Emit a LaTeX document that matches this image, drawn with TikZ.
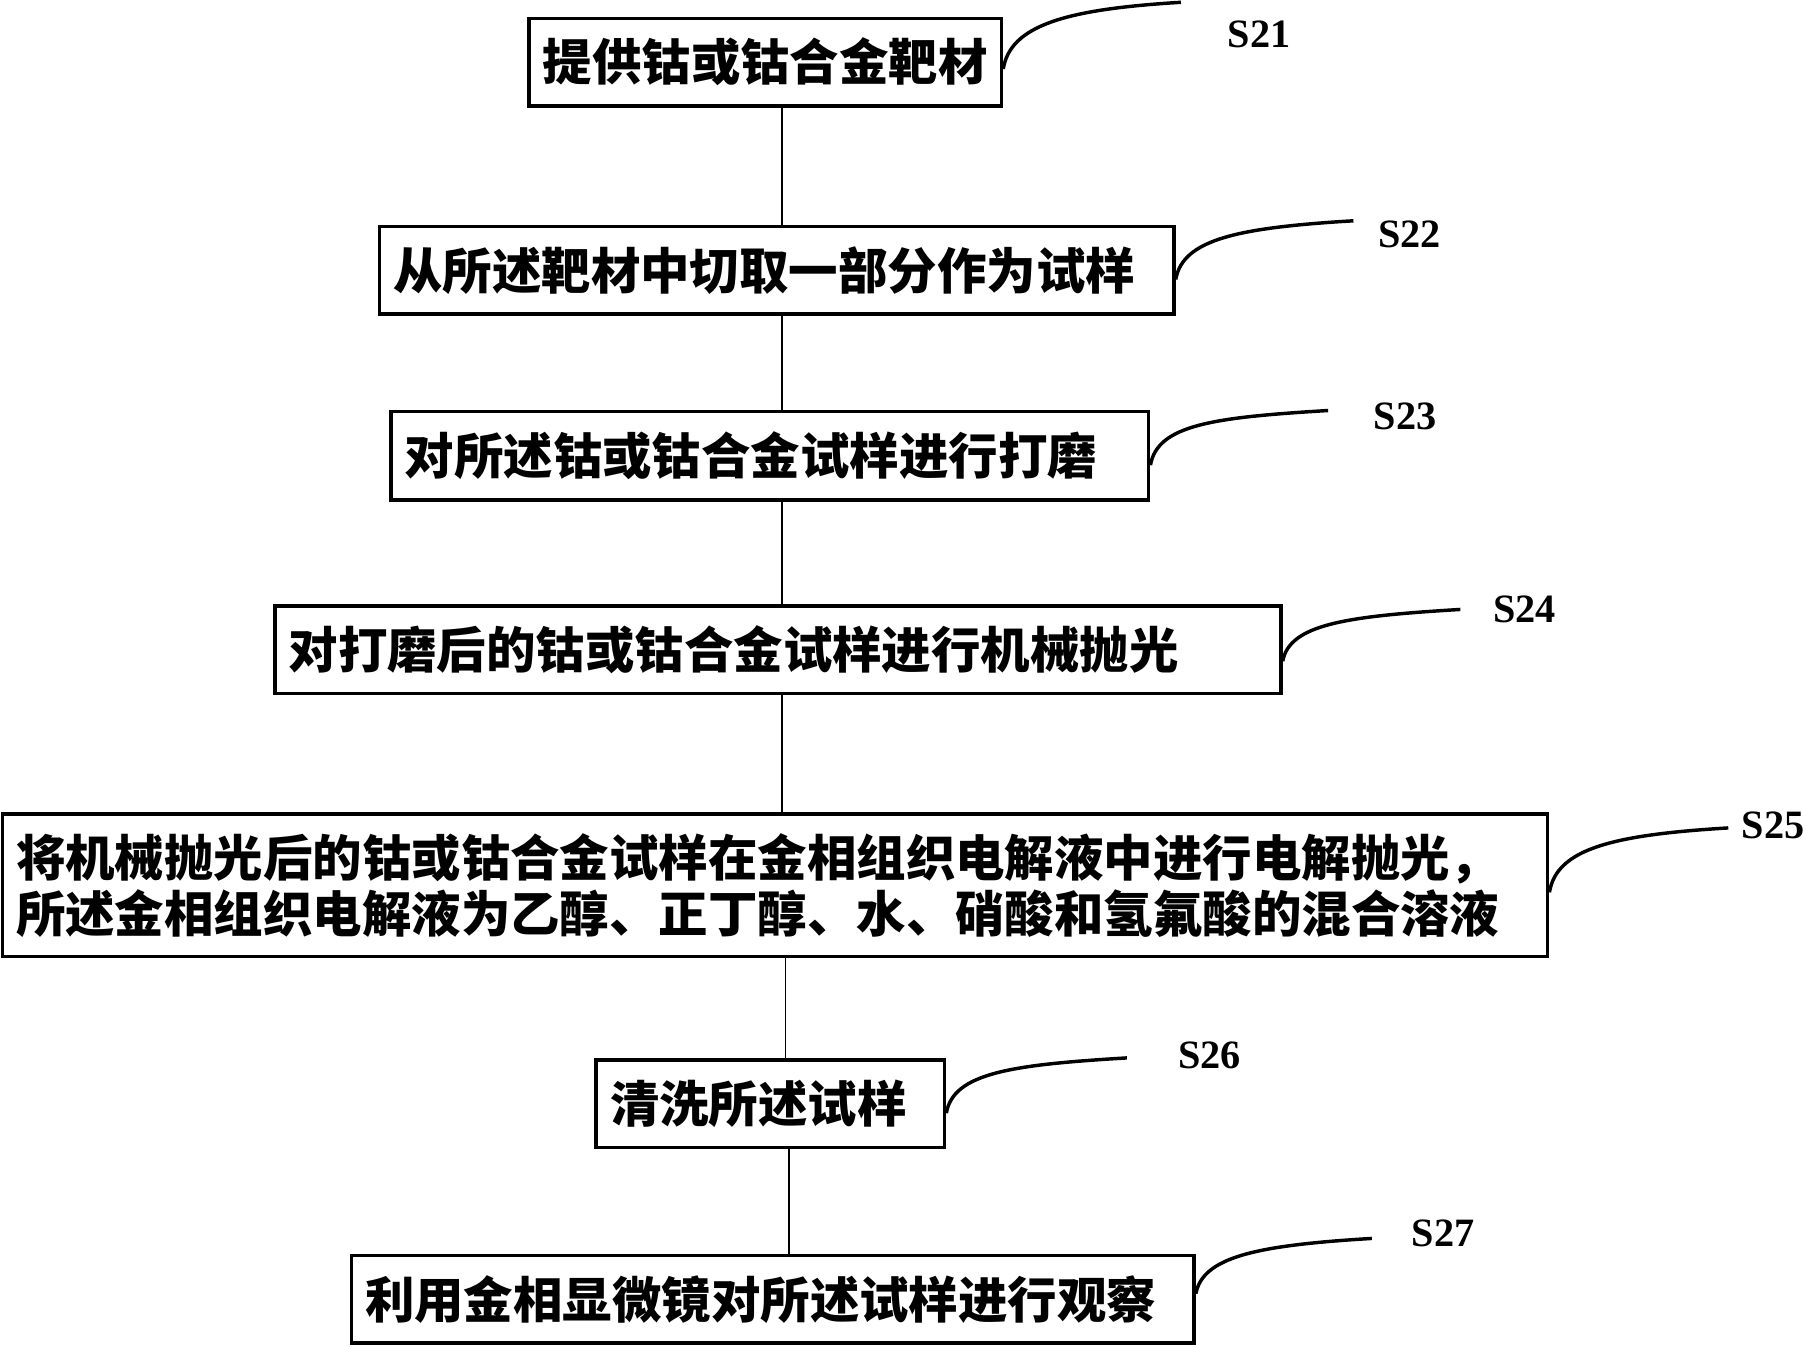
\documentclass[tikz,border=0pt]{standalone}
\usepackage{fontspec}
\usepackage{tikz}
\newfontfamily\cjk{Noto Sans CJK SC}
\newfontfamily\tag{Liberation Serif}

\tikzset{
  stepbox/.style={draw=black,line width=3pt,rectangle,inner xsep=12pt,inner ysep=0pt,
    align=left,font=\cjk\bfseries\fontsize{43}{49}\selectfont},
  link/.style={black,line width=1.4pt},
  leader/.style={black,line width=3pt},
  steptag/.style={font=\tag\bfseries\fontsize{35}{35}\selectfont}
}

\begin{document}
\begin{tikzpicture}[x=1pt,y=-1pt]
\useasboundingbox (0,0) rectangle (1568,1171);

% the steps
\node[stepbox,text width=387pt,minimum height=76pt] (a) at (665.5,54) {提供钴或钴合金靶材};
\node[stepbox,text width=667pt,minimum height=76pt] (b) at (675.5,235) {从所述靶材中切取一部分作为试样};
\node[stepbox,text width=635pt,minimum height=77pt] (c) at (669.5,396.5) {对所述钴或钴合金试样进行打磨};
\node[stepbox,text width=851pt,minimum height=76pt] (d) at (676.5,565) {对打磨后的钴或钴合金试样进行机械抛光};
\node[stepbox,text width=1320pt,minimum height=124pt] (e) at (674,770)
  {将机械抛光后的钴或钴合金试样在金相组织电解液中进行电解抛光，\\所述金相组织电解液为乙醇、正丁醇、水、硝酸和氢氟酸的混合溶液};
\node[stepbox,text width=279pt,minimum height=76pt] (f) at (670,960) {清洗所述试样};
\node[stepbox,text width=709pt,minimum height=76pt] (g) at (672,1130) {利用金相显微镜对所述试样进行观察};

% connectors
\coordinate (spine) at (680,0);
\coordinate (spine2) at (683,0);
\coordinate (spine3) at (686,0);
\draw[link] (a.south -| spine) -- (b.north -| spine);
\draw[link] (b.south -| spine) -- (c.north -| spine);
\draw[link] (c.south -| spine) -- (d.north -| spine);
\draw[link] (d.south -| spine) -- (e.north -| spine);
\draw[link] (e.south -| spine2) -- (f.north -| spine2);
\draw[link] (f.south -| spine3) -- (g.north -| spine3);

% step tags
\coordinate (ta) at (1027,2);
\coordinate (tb) at (1177,192);
\coordinate (tc) at (1155,357);
\coordinate (td) at (1270,530);
\coordinate (te) at (1503,720);
\coordinate (tf) at (980,920);
\coordinate (tg) at (1193,1077);

\draw[leader] ([yshift=-6pt]a.east) .. controls +(6,-38) and +(-100,6) .. (ta);
\draw[leader] ([yshift=-8pt]b.east) .. controls +(6,-35) and +(-100,6) .. (tb);
\draw[leader] ([yshift=-8pt]c.east) .. controls +(6,-35) and +(-100,6) .. (tc);
\draw[leader] ([yshift=-10pt]d.east) .. controls +(6,-32) and +(-100,6) .. (td);
\draw[leader] ([yshift=-6pt]e.east) .. controls +(6,-38) and +(-100,6) .. (te);
\draw[leader] ([yshift=-8pt]f.east) .. controls +(6,-35) and +(-100,6) .. (tf);
\draw[leader] ([yshift=5pt]g.east) .. controls +(6,-32) and +(-100,6) .. (tg);

\node[steptag] (la) at (1095,30) {S21};
\node[steptag] (lb) at (1226,204) {S22};
\node[steptag] (lc) at (1222,362) {S23};
\node[steptag] (ld) at (1326,530) {S24};
\node[steptag] (le) at (1542,718) {S25};
\node[steptag] (lf) at (1052,918) {S26};
\node[steptag] (lg) at (1255,1073) {S27};
\end{tikzpicture}
\end{document}
